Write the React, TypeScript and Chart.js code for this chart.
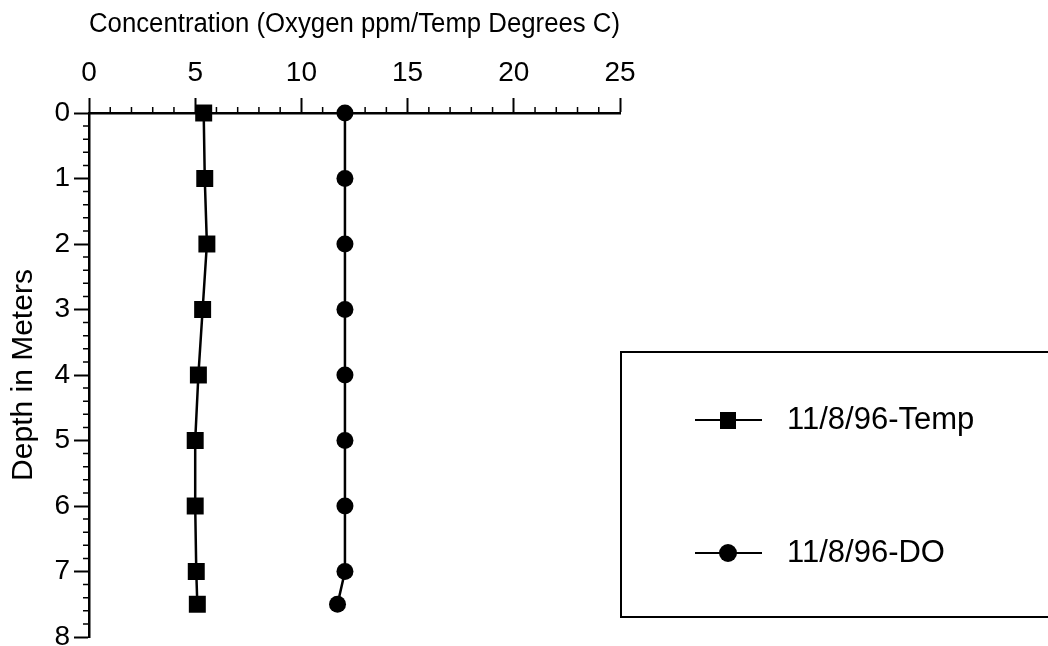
import React, { useEffect, useRef } from "react";
import { Chart, registerables } from "chart.js";

Chart.register(...registerables);

// ---- data ----
const depths = [0, 1, 2, 3, 4, 5, 6, 7, 7.5];
const tempValues = [5.4, 5.45, 5.55, 5.35, 5.15, 5.0, 5.0, 5.05, 5.1];
const doValues = [12.05, 12.05, 12.05, 12.05, 12.05, 12.05, 12.05, 12.05, 11.7];
const seriesLabels = ["11/8/96-Temp", "11/8/96-DO"];
const seriesStyles = ["rect", "circle"];
const xTitle = "Concentration (Oxygen ppm/Temp Degrees C)";
const yTitle = "Depth in Meters";
const xMin = 0;
const xMax = 25;
const xMajorStep = 5;
const xMinorStep = 1;
const yMin = 0;
const yMax = 8;
const yMajorStep = 1;
const yMinorStep = 0.2;

const FONT = "'Liberation Sans', Arial, Helvetica, sans-serif";

const minorTicksPlugin = {
  id: "minorTicks",
  afterDraw(chart: any) {
    const { ctx, chartArea, scales } = chart;
    const xs = scales.x;
    const ys = scales.y;
    ctx.save();
    ctx.strokeStyle = "#000";
    ctx.lineWidth = 1.5;
    ctx.beginPath();
    const nx = Math.round((xMax - xMin) / xMinorStep);
    for (let i = 0; i <= nx; i++) {
      const v = xMin + i * xMinorStep;
      if (Math.abs(v / xMajorStep - Math.round(v / xMajorStep)) < 1e-6) continue;
      const px = xs.getPixelForValue(v);
      ctx.moveTo(px, chartArea.top);
      ctx.lineTo(px, chartArea.top - 6);
    }
    const ny = Math.round((yMax - yMin) / yMinorStep);
    for (let i = 0; i <= ny; i++) {
      const v = yMin + i * yMinorStep;
      if (Math.abs(v / yMajorStep - Math.round(v / yMajorStep)) < 1e-6) continue;
      const py = ys.getPixelForValue(v);
      ctx.moveTo(chartArea.left, py);
      ctx.lineTo(chartArea.left - 6, py);
    }
    ctx.stroke();
    ctx.restore();
  },
};

const boxLegendPlugin = {
  id: "boxLegend",
  afterDraw(chart: any) {
    const { ctx, chartArea } = chart;
    const left = chartArea.right + 1;
    const top = 352;
    const bottom = 617;
    const right = chart.width + 10;
    ctx.save();
    ctx.strokeStyle = "#000";
    ctx.lineWidth = 2;
    ctx.strokeRect(left, top, right - left, bottom - top);
    const rowYs = [top + 68, top + 201];
    chart.data.datasets.forEach((ds: any, i: number) => {
      const cy = rowYs[i];
      const x0 = left + 74;
      const x1 = left + 141;
      const mx = left + 107;
      ctx.beginPath();
      ctx.lineWidth = 2;
      ctx.moveTo(x0, cy);
      ctx.lineTo(x1, cy);
      ctx.stroke();
      ctx.fillStyle = "#000";
      if (ds.pointStyle === "rect") {
        ctx.fillRect(mx - 8, cy - 8, 16, 17);
      } else {
        ctx.beginPath();
        ctx.arc(mx, cy, 9, 0, Math.PI * 2);
        ctx.fill();
      }
      ctx.font = `31px ${FONT}`;
      ctx.textBaseline = "middle";
      ctx.textAlign = "left";
      ctx.fillText(ds.label, left + 166, cy);
    });
    ctx.restore();
  },
};

export default function App() {
  const canvasRef = useRef<HTMLCanvasElement | null>(null);

  useEffect(() => {
    if (!canvasRef.current) return;
    const values = [tempValues, doValues];
    const chart = new Chart(canvasRef.current, {
      type: "scatter",
      data: {
        datasets: seriesLabels.map((label, si) => ({
          label,
          data: depths.map((d, i) => ({ x: values[si][i], y: d })),
          showLine: true,
          borderColor: "#000",
          borderWidth: 2.5,
          backgroundColor: "#000",
          pointBackgroundColor: "#000",
          pointBorderColor: "#000",
          pointBorderWidth: 0,
          pointStyle: seriesStyles[si] as any,
          pointRadius: seriesStyles[si] === "rect" ? 12 : 8.5,
          clip: false as any,
        })),
      },
      options: {
        responsive: false,
        animation: false,
        events: [],
        layout: {
          autoPadding: false,
          padding: { left: 0, top: 0, right: 428, bottom: 9 },
        },
        plugins: {
          legend: { display: false },
          tooltip: { enabled: false },
        },
        scales: {
          x: {
            type: "linear",
            position: "top",
            min: xMin,
            max: xMax,
            ticks: {
              stepSize: xMajorStep,
              color: "#000",
              font: { family: FONT, size: 28 },
              padding: 8,
              maxRotation: 0,
            },
            grid: {
              drawOnChartArea: false,
              drawTicks: true,
              tickLength: 15,
              tickWidth: 2,
              tickColor: "#000",
              color: "#000",
            },
            border: { display: true, color: "#000", width: 2.5 },
            title: {
              display: true,
              text: xTitle,
              color: "#000",
              font: { family: FONT, size: 27 },
              padding: { top: 8, bottom: 0 },
            },
            afterFit: (s: any) => {
              s.height = 113;
              s.paddingLeft = 0;
              s.paddingRight = 0;
            },
          },
          y: {
            type: "linear",
            position: "left",
            reverse: true,
            min: yMin,
            max: yMax,
            ticks: {
              stepSize: yMajorStep,
              color: "#000",
              font: { family: FONT, size: 28 },
              padding: 4,
            },
            grid: {
              drawOnChartArea: false,
              drawTicks: true,
              tickLength: 15,
              tickWidth: 2,
              tickColor: "#000",
              color: "#000",
            },
            border: { display: true, color: "#000", width: 2.5 },
            title: {
              display: true,
              text: yTitle,
              color: "#000",
              font: { family: FONT, size: 30 },
              padding: { top: 6, bottom: 0 },
            },
            afterFit: (s: any) => {
              s.width = 89;
              s.paddingTop = 0;
              s.paddingBottom = 0;
            },
          },
        },
      },
      plugins: [minorTicksPlugin, boxLegendPlugin],
    });
    return () => chart.destroy();
  }, []);

  return (
    <div
      style={{
        position: "fixed",
        left: 0,
        top: 0,
        width: 1048,
        height: 646,
        overflow: "hidden",
        background: "#fff",
      }}
    >
      <canvas ref={canvasRef} width={1048} height={646} />
    </div>
  );
}
